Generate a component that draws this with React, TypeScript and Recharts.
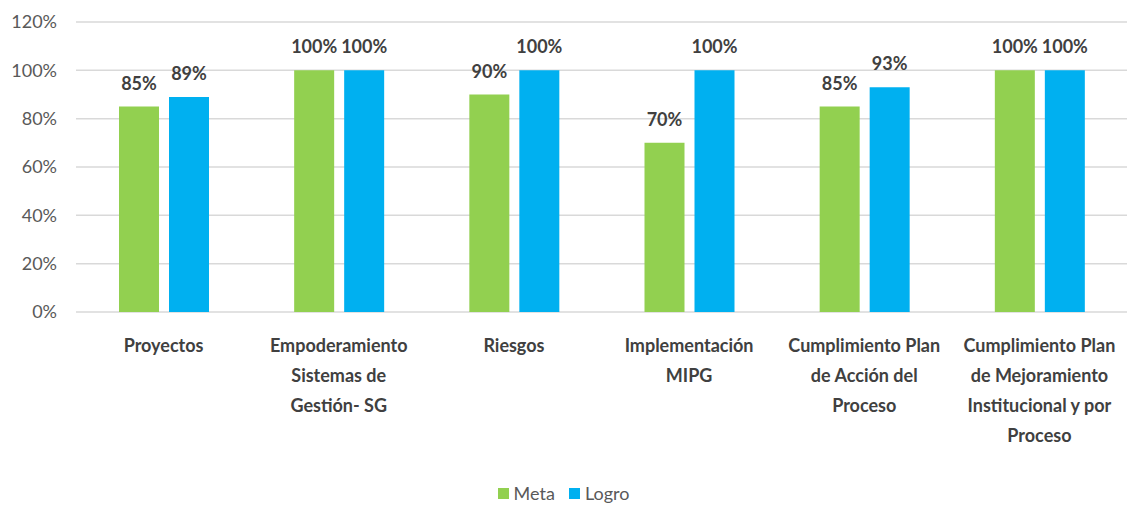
import { Bar, BarChart, CartesianGrid, LabelList, Legend, XAxis, YAxis } from "recharts";

const categories = [
  "Proyectos",
  "Empoderamiento\nSistemas de\nGestión- SG",
  "Riesgos",
  "Implementación\nMIPG",
  "Cumplimiento Plan\nde Acción del\nProceso",
  "Cumplimiento Plan\nde Mejoramiento\nInstitucional y por\nProceso",
];
const meta = [85, 100, 90, 70, 85, 100];
const logro = [89, 100, 100, 100, 93, 100];
const yTicks = [0, 20, 40, 60, 80, 100, 120];
const seriesLegend = [
  { name: "Meta", color: "#92d050" },
  { name: "Logro", color: "#00b0f0" },
];

const data = categories.map((name, i) => ({ name, meta: meta[i], logro: logro[i] }));

const FONT = "Lato, 'Open Sans', sans-serif";

function CategoryTick({ x, y, payload }: any) {
  const lines = String(payload.value).split("\n");
  return (
    <text x={x} y={y} textAnchor="middle" fill="#404040" fontSize={18} fontWeight={700} fontFamily={FONT}>
      {lines.map((line, i) => (
        <tspan key={i} x={x} dy={i === 0 ? 32 : 30}>
          {line}
        </tspan>
      ))}
    </text>
  );
}

function LegendContent() {
  return (
    <div style={{ display: "flex", justifyContent: "center", gap: 14, fontFamily: FONT, fontSize: 18, color: "#595959" }}>
      {seriesLegend.map((s) => (
        <div key={s.name} style={{ display: "flex", alignItems: "center", gap: 5 }}>
          <span style={{ width: 11, height: 11, background: s.color, display: "inline-block" }} />
          <span>{s.name}</span>
        </div>
      ))}
    </div>
  );
}

export default function App() {
  return (
    <div style={{ position: "absolute", left: 0, top: 0, background: "#fff" }}>
      <BarChart
        width={1130}
        height={508}
        data={data}
        margin={{ top: 22, right: 3, bottom: 0, left: 0 }}
        barGap={10}
        barSize={40}
      >
        <CartesianGrid vertical={false} stroke="#d9d9d9" strokeWidth={1.5} />
        <XAxis
          dataKey="name"
          axisLine={false}
          tickLine={false}
          interval={0}
          height={170}
          tick={<CategoryTick />}
        />
        <YAxis
          domain={[0, 120]}
          ticks={yTicks}
          axisLine={false}
          tickLine={false}
          tickSize={0}
          tickMargin={19}
          width={76}
          tickFormatter={(v) => `${v}%`}
          tick={{ fill: "#595959", fontSize: 18, fontFamily: FONT }}
        />
        <Legend verticalAlign="bottom" content={<LegendContent />} wrapperStyle={{ paddingBottom: 4 }} />
        <Bar dataKey="meta" name="Meta" fill="#92d050" isAnimationActive={false}>
          <LabelList
            dataKey="meta"
            position="top"
            offset={17}
            formatter={(v: any) => `${v}%`}
            style={{ fill: "#404040", fontSize: 18, fontWeight: 700, fontFamily: FONT }}
          />
        </Bar>
        <Bar dataKey="logro" name="Logro" fill="#00b0f0" isAnimationActive={false}>
          <LabelList
            dataKey="logro"
            position="top"
            offset={17}
            formatter={(v: any) => `${v}%`}
            style={{ fill: "#404040", fontSize: 18, fontWeight: 700, fontFamily: FONT }}
          />
        </Bar>
      </BarChart>
    </div>
  );
}
